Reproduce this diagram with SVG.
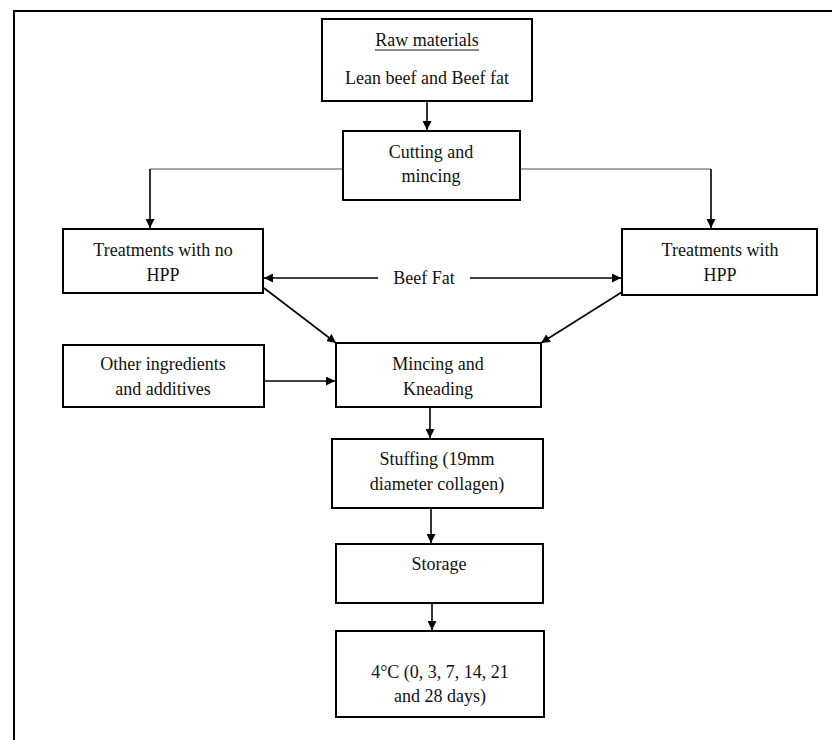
<svg xmlns="http://www.w3.org/2000/svg" width="832" height="740" viewBox="0 0 832 740">
<style>
.box{fill:#fff;stroke:#000;stroke-width:2}
.t{font-family:"Liberation Serif","Times New Roman",serif;font-size:18px;fill:#111;text-anchor:middle}
.c{stroke:#000;stroke-width:1.6;fill:none}
.g{stroke:#8a8a8a;stroke-width:1.6;fill:none}
</style>
<defs>
<marker id="ah" viewBox="0 0 10 10" refX="10" refY="5" markerWidth="9" markerHeight="9" markerUnits="userSpaceOnUse" orient="auto-start-reverse">
<path d="M0,0 L10,5 L0,10 z" fill="#000"/>
</marker>
</defs>
<rect width="832" height="740" fill="#fff"/>
<rect x="14" y="11" width="840" height="760" fill="none" stroke="#000" stroke-width="2"/>
<g id="connectors">
<line class="c" x1="427" y1="101" x2="427" y2="130" marker-end="url(#ah)"/>
<polyline class="g" points="343,169 150,169"/>
<line class="c" x1="150" y1="169" x2="150" y2="228" marker-end="url(#ah)"/>
<polyline class="g" points="520,169 711,169"/>
<line class="c" x1="711" y1="169" x2="711" y2="228" marker-end="url(#ah)"/>
<line class="c" x1="378" y1="278" x2="264" y2="278" marker-end="url(#ah)"/>
<line class="c" x1="470" y1="278" x2="621" y2="278" marker-end="url(#ah)"/>
<line class="c" x1="264" y1="288" x2="336" y2="343" marker-end="url(#ah)"/>
<line class="c" x1="622" y1="292" x2="541" y2="343" marker-end="url(#ah)"/>
<line class="c" x1="264" y1="381" x2="335" y2="381" marker-end="url(#ah)"/>
<line class="c" x1="430" y1="407" x2="430" y2="438" marker-end="url(#ah)"/>
<line class="c" x1="431" y1="508" x2="431" y2="543" marker-end="url(#ah)"/>
<line class="c" x1="432" y1="603" x2="432" y2="630" marker-end="url(#ah)"/>
</g>
<g id="raw">
<rect class="box" x="322" y="19" width="210" height="82"/>
<text class="t" x="427" y="46">Raw materials</text>
<line x1="375" y1="50" x2="479" y2="50" stroke="#111" stroke-width="1"/>
<text class="t" x="427" y="84">Lean beef and Beef fat</text>
</g>
<g id="cutting">
<rect class="box" x="343" y="131" width="177" height="69"/>
<text class="t" x="431" y="158">Cutting and</text>
<text class="t" x="431" y="182">mincing</text>
</g>
<g id="nohpp">
<rect class="box" x="63" y="229" width="200" height="64"/>
<text class="t" x="163" y="256">Treatments with no</text>
<text class="t" x="163" y="281">HPP</text>
</g>
<g id="hpp">
<rect class="box" x="622" y="229" width="195" height="66"/>
<text class="t" x="720" y="256">Treatments with</text>
<text class="t" x="720" y="281">HPP</text>
</g>
<g id="beeffat">
<text class="t" x="424" y="284">Beef Fat</text>
</g>
<g id="other">
<rect class="box" x="63" y="345" width="201" height="62"/>
<text class="t" x="163" y="370">Other ingredients</text>
<text class="t" x="163" y="395">and additives</text>
</g>
<g id="mincing">
<rect class="box" x="336" y="343" width="205" height="64"/>
<text class="t" x="438" y="370">Mincing and</text>
<text class="t" x="438" y="395">Kneading</text>
</g>
<g id="stuffing">
<rect class="box" x="332" y="439" width="211" height="69"/>
<text class="t" x="437" y="465">Stuffing (19mm</text>
<text class="t" x="437" y="490">diameter collagen)</text>
</g>
<g id="storage">
<rect class="box" x="336" y="544" width="207" height="59"/>
<text class="t" x="439" y="570">Storage</text>
</g>
<g id="temp">
<rect class="box" x="336" y="631" width="208" height="86"/>
<text class="t" x="440" y="678">4°C (0, 3, 7, 14, 21</text>
<text class="t" x="440" y="702">and 28 days)</text>
</g>
</svg>
